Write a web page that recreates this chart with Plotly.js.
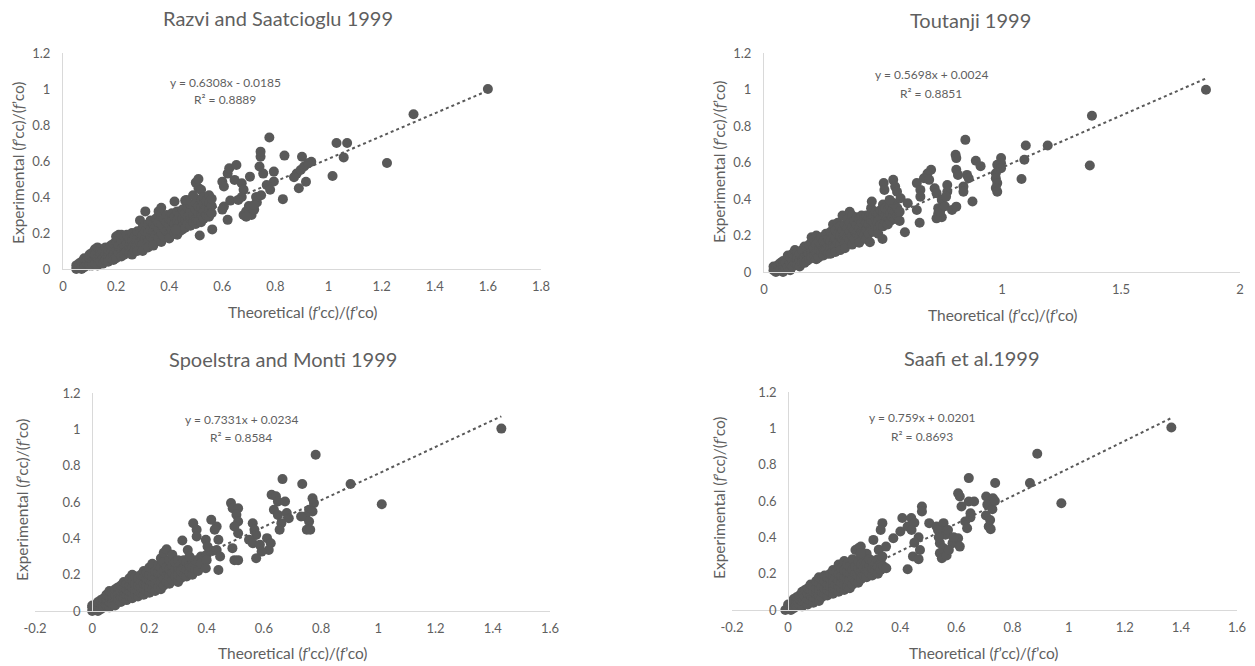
<!DOCTYPE html>
<html>
<head>
<meta charset="utf-8">
<script src="https://cdn.plot.ly/plotly-3.0.1.min.js"></script>
<style>html,body{margin:0;padding:0;background:#fff;}#chart{width:1255px;height:666px;}</style>
</head>
<body>
<div id="chart"></div>
<script>
// ---------- DATA ----------
const titles = ["Razvi and Saatcioglu 1999", "Toutanji 1999", "Spoelstra and Monti 1999", "Saafi et al.1999"];
const equations = ["y = 0.6308x - 0.0185", "y = 0.5698x + 0.0024", "y = 0.7331x + 0.0234", "y = 0.759x + 0.0201"];
const rSquared = ["R² = 0.8889", "R² = 0.8851", "R² = 0.8584", "R² = 0.8693"];
const slopes = [0.6308, 0.5698, 0.7331, 0.759];
const intercepts = [-0.0185, 0.0024, 0.0234, 0.0201];
const xTitle = "Theoretical (<i>f</i>’cc)/(<i>f</i>’co)";
const yTitle = "Experimental (<i>f</i>’cc)/(<i>f</i>’co)";

const yTickVals = [0, 0.2, 0.4, 0.6, 0.8, 1, 1.2];
const yTickText = ["0", "0.2", "0.4", "0.6", "0.8", "1", "1.2"];
const xTickVals1 = [0, 0.2, 0.4, 0.6, 0.8, 1, 1.2, 1.4, 1.6, 1.8];
const xTickText1 = ["0", "0.2", "0.4", "0.6", "0.8", "1", "1.2", "1.4", "1.6", "1.8"];
const xTickVals2 = [0, 0.5, 1, 1.5, 2];
const xTickText2 = ["0", "0.5", "1", "1.5", "2"];
const xTickVals34 = [-0.2, 0, 0.2, 0.4, 0.6, 0.8, 1, 1.2, 1.4, 1.6];
const xTickText34 = ["-0.2", "0", "0.2", "0.4", "0.6", "0.8", "1", "1.2", "1.4", "1.6"];

const razviPts = [
[0.05,0.02],[0.05,0.0],[0.06,0.03],[0.06,0.01],[0.07,0.0],[0.07,0.04],[0.08,0.02],[0.08,0.06],[0.08,0.01],
[0.09,0.03],[0.09,0.05],[0.10,0.02],[0.10,0.06],[0.10,0.08],[0.11,0.04],[0.11,0.09],[0.11,0.02],
[0.12,0.05],[0.12,0.11],[0.12,0.03],[0.12,0.08],[0.13,0.06],[0.13,0.12],[0.13,0.02],[0.14,0.04],[0.14,0.09],[0.14,0.11],
[0.15,0.06],[0.15,0.10],[0.15,0.03],[0.16,0.08],[0.16,0.12],[0.16,0.05],[0.17,0.07],[0.17,0.11],[0.17,0.04],
[0.18,0.09],[0.18,0.13],[0.18,0.06],[0.19,0.08],[0.19,0.14],[0.19,0.05],[0.20,0.10],[0.20,0.15],[0.20,0.06],[0.20,0.18],
[0.21,0.09],[0.21,0.13],[0.21,0.19],[0.22,0.11],[0.22,0.16],[0.22,0.19],[0.22,0.07],[0.23,0.12],[0.23,0.18],[0.23,0.08],
[0.24,0.10],[0.24,0.14],[0.24,0.19],[0.25,0.13],[0.25,0.17],[0.25,0.09],[0.26,0.12],[0.26,0.16],[0.26,0.20],[0.26,0.08],
[0.27,0.14],[0.27,0.18],[0.27,0.10],[0.28,0.13],[0.28,0.17],[0.28,0.21],[0.28,0.10],[0.29,0.15],[0.29,0.20],[0.29,0.27],
[0.30,0.14],[0.30,0.19],[0.30,0.23],[0.30,0.10],[0.31,0.17],[0.31,0.21],[0.31,0.32],[0.32,0.15],[0.32,0.20],[0.32,0.25],[0.32,0.12],
[0.33,0.18],[0.33,0.22],[0.33,0.27],[0.34,0.16],[0.34,0.21],[0.34,0.25],[0.34,0.13],[0.35,0.19],[0.35,0.24],[0.35,0.28],
[0.36,0.17],[0.36,0.22],[0.36,0.26],[0.36,0.32],[0.37,0.20],[0.37,0.25],[0.37,0.34],[0.37,0.15],[0.38,0.18],[0.38,0.23],[0.38,0.28],
[0.39,0.21],[0.39,0.26],[0.39,0.30],[0.40,0.19],[0.40,0.24],[0.40,0.28],[0.40,0.17],[0.41,0.22],[0.41,0.27],[0.41,0.31],
[0.42,0.20],[0.42,0.25],[0.42,0.29],[0.43,0.23],[0.43,0.27],[0.43,0.32],[0.43,0.19],[0.44,0.21],[0.44,0.26],[0.44,0.30],
[0.45,0.24],[0.45,0.28],[0.45,0.33],[0.45,0.22],[0.46,0.23],[0.46,0.27],[0.46,0.31],[0.46,0.38],[0.47,0.25],[0.47,0.29],[0.47,0.34],
[0.48,0.24],[0.48,0.28],[0.48,0.32],[0.48,0.36],[0.49,0.26],[0.49,0.30],[0.49,0.35],[0.50,0.25],[0.50,0.29],[0.50,0.33],[0.50,0.37],[0.50,0.48],
[0.51,0.27],[0.51,0.31],[0.51,0.35],[0.51,0.50],[0.51,0.45],[0.52,0.26],[0.52,0.30],[0.52,0.34],[0.52,0.39],[0.52,0.44],
[0.53,0.28],[0.53,0.32],[0.53,0.36],[0.53,0.40],[0.54,0.30],[0.54,0.34],[0.54,0.38],[0.55,0.29],[0.55,0.33],[0.55,0.37],[0.55,0.41],[0.56,0.31],[0.56,0.35],[0.56,0.39],
[0.515,0.186],[0.562,0.22],[0.425,0.218],[0.42,0.375],[0.465,0.384],[0.49,0.41],
[0.60,0.485],[0.606,0.458],[0.62,0.53],[0.626,0.56],[0.653,0.578],[0.646,0.495],
[0.606,0.347],[0.62,0.273],[0.60,0.33],[0.63,0.38],
[0.673,0.476],[0.68,0.44],[0.673,0.40],[0.66,0.384],[0.704,0.513],
[0.68,0.30],[0.69,0.32],[0.70,0.35],[0.71,0.30],[0.72,0.33],[0.69,0.29],[0.73,0.37],[0.727,0.40],[0.746,0.41],[0.72,0.356],
[0.767,0.467],[0.78,0.44],[0.794,0.486],[0.794,0.541],[0.754,0.53],[0.74,0.569],[0.744,0.624],[0.744,0.652],[0.777,0.731],
[0.828,0.388],[0.834,0.63],
[0.888,0.449],[0.88,0.53],[0.895,0.55],[0.908,0.569],[0.935,0.596],[0.90,0.624],[0.923,0.587],[0.915,0.485],[0.87,0.51],
[1.015,0.517],[1.03,0.70],[1.07,0.70],[1.057,0.62],[1.22,0.589],[1.32,0.86],[1.60,1.0]
];

const toutanjiPts = [
[0.04,0.01],[0.04,0.03],[0.05,0.0],[0.05,0.02],[0.06,0.04],[0.06,0.01],[0.07,0.02],[0.07,0.05],[0.08,0.03],[0.08,0.06],[0.08,0.0],
[0.09,0.02],[0.09,0.05],[0.10,0.03],[0.10,0.07],[0.10,0.09],[0.11,0.04],[0.11,0.08],[0.11,0.01],[0.12,0.06],[0.12,0.10],[0.12,0.03],
[0.13,0.05],[0.13,0.12],[0.13,0.08],[0.14,0.04],[0.14,0.09],[0.14,0.11],[0.15,0.06],[0.15,0.10],[0.15,0.03],[0.16,0.07],[0.16,0.12],[0.16,0.05],
[0.17,0.08],[0.17,0.14],[0.17,0.05],[0.18,0.09],[0.18,0.13],[0.18,0.06],[0.19,0.10],[0.19,0.15],[0.19,0.07],[0.20,0.11],[0.20,0.16],[0.20,0.08],[0.20,0.19],
[0.21,0.09],[0.21,0.13],[0.21,0.18],[0.22,0.10],[0.22,0.15],[0.22,0.20],[0.22,0.07],[0.23,0.12],[0.23,0.17],[0.23,0.08],[0.24,0.11],[0.24,0.15],[0.24,0.19],
[0.25,0.13],[0.25,0.17],[0.25,0.09],[0.26,0.12],[0.26,0.16],[0.26,0.21],[0.27,0.14],[0.27,0.18],[0.27,0.10],[0.28,0.13],[0.28,0.17],[0.28,0.22],[0.28,0.10],
[0.29,0.15],[0.29,0.20],[0.29,0.26],[0.30,0.14],[0.30,0.19],[0.30,0.23],[0.30,0.11],[0.31,0.16],[0.31,0.21],[0.31,0.27],[0.32,0.15],[0.32,0.20],[0.32,0.25],[0.32,0.12],
[0.33,0.18],[0.33,0.23],[0.33,0.31],[0.34,0.16],[0.34,0.21],[0.34,0.26],[0.34,0.13],[0.35,0.19],[0.35,0.24],[0.35,0.29],[0.36,0.17],[0.36,0.22],[0.36,0.27],[0.36,0.33],
[0.37,0.20],[0.37,0.25],[0.37,0.31],[0.37,0.15],[0.38,0.18],[0.38,0.23],[0.38,0.28],[0.39,0.21],[0.39,0.26],[0.39,0.30],[0.40,0.19],[0.40,0.24],[0.40,0.29],[0.40,0.16],
[0.41,0.22],[0.41,0.27],[0.41,0.31],[0.42,0.20],[0.42,0.25],[0.42,0.29],[0.43,0.23],[0.43,0.27],[0.43,0.31],[0.43,0.18],[0.44,0.21],[0.44,0.26],[0.44,0.30],
[0.45,0.24],[0.45,0.28],[0.45,0.32],[0.45,0.35],[0.46,0.22],[0.46,0.27],[0.46,0.31],[0.47,0.25],[0.47,0.29],[0.47,0.33],[0.48,0.24],[0.48,0.28],[0.48,0.32],[0.48,0.21],
[0.49,0.26],[0.49,0.30],[0.49,0.34],[0.50,0.25],[0.50,0.29],[0.50,0.33],[0.50,0.37],[0.51,0.27],[0.51,0.31],[0.51,0.35],[0.52,0.26],[0.52,0.30],[0.52,0.34],
[0.53,0.28],[0.53,0.32],[0.53,0.36],[0.54,0.30],[0.54,0.34],[0.54,0.38],[0.55,0.29],[0.55,0.33],[0.55,0.37],[0.56,0.31],[0.56,0.35],[0.57,0.28],[0.57,0.33],
[0.445,0.163],[0.453,0.386],[0.498,0.181],[0.503,0.487],[0.506,0.45],[0.543,0.505],[0.551,0.468],[0.559,0.44],[0.528,0.395],[0.574,0.404],[0.592,0.218],[0.604,0.377],
[0.642,0.487],[0.657,0.45],[0.657,0.413],[0.642,0.34],[0.654,0.27],
[0.702,0.56],[0.687,0.54],[0.672,0.514],[0.694,0.505],[0.717,0.459],[0.725,0.432],
[0.747,0.395],[0.732,0.35],[0.732,0.32],[0.747,0.30],[0.725,0.294],[0.74,0.33],[0.76,0.36],
[0.77,0.477],[0.77,0.44],[0.765,0.413],[0.79,0.34],[0.808,0.358],
[0.805,0.642],[0.808,0.624],[0.808,0.56],[0.815,0.532],[0.853,0.532],[0.86,0.514],[0.838,0.468],[0.838,0.44],[0.846,0.724],[0.876,0.386],[0.89,0.61],[0.91,0.58],
[0.996,0.624],[0.996,0.596],[0.98,0.587],[0.996,0.569],[0.974,0.541],[0.974,0.514],[0.98,0.487],[0.974,0.46],[0.98,0.44],
[1.082,0.51],[1.094,0.615],[1.10,0.693],[1.192,0.693],[1.369,0.584],[1.378,0.856],[1.857,0.999]
];

const spoelstraPts = [
[0.0,0.0],[0.0,0.02],[0.0,0.03],[0.01,0.01],[0.01,0.03],[0.02,0.0],[0.02,0.02],[0.02,0.05],[0.03,0.01],[0.03,0.04],[0.03,0.06],
[0.04,0.02],[0.04,0.05],[0.04,0.07],[0.05,0.03],[0.05,0.06],[0.05,0.09],[0.06,0.02],[0.06,0.05],[0.06,0.08],[0.06,0.11],
[0.07,0.04],[0.07,0.07],[0.07,0.10],[0.08,0.05],[0.08,0.09],[0.08,0.12],[0.08,0.03],[0.09,0.06],[0.09,0.10],[0.09,0.13],
[0.10,0.05],[0.10,0.08],[0.10,0.11],[0.10,0.14],[0.11,0.07],[0.11,0.10],[0.11,0.13],[0.11,0.16],[0.12,0.06],[0.12,0.09],[0.12,0.12],[0.12,0.15],
[0.13,0.08],[0.13,0.11],[0.13,0.14],[0.13,0.18],[0.14,0.07],[0.14,0.10],[0.14,0.13],[0.14,0.17],[0.14,0.20],[0.15,0.09],[0.15,0.12],[0.15,0.15],[0.15,0.19],
[0.16,0.08],[0.16,0.11],[0.16,0.14],[0.16,0.18],[0.17,0.10],[0.17,0.13],[0.17,0.16],[0.17,0.20],[0.18,0.09],[0.18,0.12],[0.18,0.15],[0.18,0.19],[0.18,0.22],
[0.19,0.11],[0.19,0.14],[0.19,0.18],[0.19,0.21],[0.20,0.10],[0.20,0.13],[0.20,0.17],[0.20,0.20],[0.20,0.24],[0.21,0.12],[0.21,0.16],[0.21,0.19],[0.21,0.26],
[0.22,0.11],[0.22,0.15],[0.22,0.18],[0.22,0.22],[0.23,0.13],[0.23,0.17],[0.23,0.21],[0.23,0.25],[0.24,0.12],[0.24,0.16],[0.24,0.20],[0.24,0.24],[0.24,0.29],
[0.25,0.14],[0.25,0.18],[0.25,0.22],[0.25,0.27],[0.25,0.32],[0.26,0.16],[0.26,0.20],[0.26,0.24],[0.26,0.34],[0.27,0.15],[0.27,0.19],[0.27,0.23],[0.27,0.28],
[0.28,0.17],[0.28,0.21],[0.28,0.25],[0.28,0.31],[0.29,0.19],[0.29,0.23],[0.29,0.27],[0.30,0.16],[0.30,0.20],[0.30,0.24],[0.30,0.28],
[0.31,0.18],[0.31,0.22],[0.31,0.26],[0.32,0.20],[0.32,0.24],[0.32,0.28],[0.33,0.19],[0.33,0.23],[0.33,0.27],[0.34,0.21],[0.34,0.25],[0.35,0.20],[0.35,0.24],[0.36,0.23],[0.37,0.22],
[0.36,0.28],[0.38,0.30],[0.40,0.31],[0.42,0.33],[0.38,0.26],[0.40,0.28],
[0.315,0.388],[0.334,0.336],[0.34,0.30],[0.353,0.483],[0.365,0.447],[0.365,0.41],[0.397,0.392],[0.403,0.355],[0.397,0.235],
[0.416,0.502],[0.435,0.465],[0.428,0.447],[0.441,0.392],[0.435,0.336],[0.447,0.30],[0.441,0.226],
[0.485,0.594],[0.491,0.566],[0.51,0.566],[0.504,0.53],[0.51,0.493],[0.497,0.465],[0.51,0.428],[0.49,0.346],[0.497,0.28],[0.51,0.28],
[0.561,0.483],[0.567,0.447],[0.573,0.419],[0.548,0.392],[0.561,0.373],[0.586,0.364],[0.611,0.401],[0.624,0.373],[0.617,0.336],[0.592,0.327],[0.573,0.29],
[0.627,0.64],[0.642,0.632],[0.649,0.603],[0.674,0.603],[0.635,0.557],[0.649,0.529],[0.68,0.539],[0.687,0.511],[0.661,0.483],[0.655,0.447],
[0.77,0.62],[0.775,0.594],[0.758,0.557],[0.77,0.548],[0.745,0.52],[0.758,0.493],[0.75,0.447],[0.762,0.447],[0.73,0.52],
[0.665,0.726],[0.734,0.699],[0.781,0.86],[0.903,0.699],[1.012,0.588],[1.43,1.004]
];

const saafiPts = [
[-0.01,0.0],[0.0,0.01],[0.0,0.03],[0.01,0.0],[0.01,0.02],[0.02,0.01],[0.02,0.04],[0.02,0.06],[0.03,0.02],[0.03,0.05],[0.03,0.07],
[0.04,0.03],[0.04,0.06],[0.04,0.08],[0.05,0.02],[0.05,0.05],[0.05,0.10],[0.06,0.04],[0.06,0.07],[0.06,0.11],[0.07,0.03],[0.07,0.06],[0.07,0.09],[0.07,0.12],
[0.08,0.05],[0.08,0.08],[0.08,0.11],[0.08,0.14],[0.09,0.04],[0.09,0.07],[0.09,0.10],[0.09,0.13],[0.10,0.06],[0.10,0.09],[0.10,0.12],[0.10,0.16],
[0.11,0.05],[0.11,0.08],[0.11,0.11],[0.11,0.15],[0.11,0.18],[0.12,0.07],[0.12,0.10],[0.12,0.13],[0.12,0.17],[0.13,0.09],[0.13,0.12],[0.13,0.16],[0.13,0.19],
[0.14,0.08],[0.14,0.11],[0.14,0.14],[0.14,0.18],[0.15,0.10],[0.15,0.13],[0.15,0.17],[0.15,0.20],[0.16,0.09],[0.16,0.12],[0.16,0.15],[0.16,0.19],[0.16,0.22],
[0.17,0.11],[0.17,0.14],[0.17,0.18],[0.17,0.21],[0.18,0.10],[0.18,0.13],[0.18,0.16],[0.18,0.20],[0.18,0.25],[0.19,0.12],[0.19,0.15],[0.19,0.19],[0.19,0.23],
[0.20,0.11],[0.20,0.14],[0.20,0.18],[0.20,0.22],[0.20,0.27],[0.21,0.13],[0.21,0.17],[0.21,0.21],[0.21,0.25],[0.22,0.12],[0.22,0.16],[0.22,0.20],[0.22,0.24],
[0.23,0.14],[0.23,0.18],[0.23,0.22],[0.23,0.28],[0.24,0.16],[0.24,0.20],[0.24,0.24],[0.24,0.33],[0.25,0.15],[0.25,0.19],[0.25,0.23],[0.25,0.27],[0.25,0.34],
[0.26,0.17],[0.26,0.21],[0.26,0.25],[0.26,0.30],[0.27,0.19],[0.27,0.23],[0.27,0.27],[0.28,0.18],[0.28,0.22],[0.28,0.26],[0.28,0.31],
[0.29,0.20],[0.29,0.24],[0.29,0.28],[0.30,0.19],[0.30,0.23],[0.30,0.27],[0.31,0.21],[0.31,0.25],[0.32,0.20],[0.32,0.24],[0.32,0.28],[0.33,0.22],[0.33,0.26],[0.34,0.24],[0.35,0.23],
[0.259,0.349],[0.259,0.313],[0.304,0.386],[0.323,0.331],[0.336,0.294],[0.336,0.478],[0.33,0.441],[0.349,0.349],[0.375,0.395],[0.40,0.432],[0.407,0.506],[0.439,0.506],[0.426,0.46],[0.426,0.224],
[0.45,0.48],[0.44,0.44],[0.465,0.40],[0.45,0.37],[0.47,0.33],[0.445,0.295],[0.465,0.28],
[0.477,0.57],[0.477,0.542],[0.503,0.478],[0.529,0.46],
[0.554,0.478],[0.541,0.441],[0.561,0.414],[0.541,0.368],[0.554,0.34],[0.586,0.368],[0.606,0.395],[0.612,0.349],[0.541,0.313],[0.548,0.285],[0.565,0.30],
[0.534,0.44],[0.537,0.40],[0.57,0.44],[0.59,0.40],[0.573,0.33],
[0.606,0.643],[0.612,0.625],[0.644,0.597],[0.663,0.597],[0.618,0.57],[0.65,0.533],[0.631,0.487],[0.638,0.45],[0.65,0.51],
[0.706,0.625],[0.73,0.615],[0.71,0.58],[0.728,0.555],[0.705,0.52],[0.72,0.495],[0.715,0.46],[0.722,0.445],[0.737,0.60],
[0.644,0.726],[0.738,0.699],[0.862,0.699],[0.888,0.86],[0.974,0.588],[1.366,1.005]
];

// ---------- LAYOUT HELPERS ----------
const W = 1255, H = 666;
const px = v => v / W;
const py = v => 1 - v / H;
const grey = "#595959";
const textGrey = "#5f5f5f";
const FONT = "Lato, 'Open Sans', sans-serif";

const panels = [
  {pts: razviPts, xr: [0, 1.8], xb: [63, 541], yb: [269, 53], tv: xTickVals1, tt: xTickText1},
  {pts: toutanjiPts, xr: [0, 2], xb: [764, 1240], yb: [272, 53], tv: xTickVals2, tt: xTickText2},
  {pts: spoelstraPts, xr: [-0.2, 1.6], xb: [35, 550], yb: [611, 393], tv: xTickVals34, tt: xTickText34},
  {pts: saafiPts, xr: [-0.2, 1.6], xb: [732, 1237], yb: [610, 392], tv: xTickVals34, tt: xTickText34}
];
const titlePos = [[278, 18], [970, 20], [283, 359], [972, 358]];
const xTitlePos = [[303, 312], [1003, 315], [293, 653], [984, 653]];
const yTitlePos = [[18, 163], [719, 162], [22, 500], [719, 498]];
const eqPos = [[225, 82], [931, 75], [241, 419], [922, 418]];

const traces = [];
const layout = {
  width: W, height: H,
  margin: {l: 0, r: 0, t: 0, b: 0},
  paper_bgcolor: "#fff", plot_bgcolor: "rgba(0,0,0,0)",
  showlegend: false,
  font: {family: FONT, color: textGrey},
  annotations: []
};

panels.forEach((p, i) => {
  const n = i + 1;
  const xa = "x" + (n === 1 ? "" : n), ya = "y" + (n === 1 ? "" : n);
  const xs = p.pts.map(d => d[0]), ys = p.pts.map(d => d[1]);
  traces.push({
    type: "scatter", mode: "markers", x: xs, y: ys, xaxis: xa, yaxis: ya,
    marker: {color: grey, size: 10}, cliponaxis: false, hoverinfo: "skip"
  });
  const xmin = Math.min(...xs), xmax = Math.max(...xs);
  traces.push({
    type: "scatter", mode: "lines", xaxis: xa, yaxis: ya,
    x: [xmin, xmax], y: [slopes[i] * xmin + intercepts[i], slopes[i] * xmax + intercepts[i]],
    line: {color: grey, width: 2, dash: "dot"}, cliponaxis: false, hoverinfo: "skip"
  });
  const xd = [px(p.xb[0]), px(p.xb[1])];
  const yd = [py(p.yb[0]), py(p.yb[1])];
  layout["xaxis" + (n === 1 ? "" : n)] = {
    domain: xd, range: p.xr, anchor: ya,
    tickvals: p.tv, ticktext: p.tt, ticks: "", showgrid: false, zeroline: false,
    showline: true, linecolor: "#d9d9d9", linewidth: 1,
    tickfont: {family: FONT, size: 13, color: textGrey}, ticklabelstandoff: 5
  };
  const yaxis = {
    domain: yd, range: [0, 1.2],
    tickvals: yTickVals, ticktext: yTickText, ticks: "", showgrid: false, zeroline: false,
    showline: true, linecolor: "#d9d9d9", linewidth: 1,
    tickfont: {family: FONT, size: 13, color: textGrey}, ticklabelstandoff: 9
  };
  if (p.xr[0] < 0) {
    yaxis.anchor = "free";
    yaxis.position = xd[0] + (0 - p.xr[0]) / (p.xr[1] - p.xr[0]) * (xd[1] - xd[0]);
  } else {
    yaxis.anchor = xa;
  }
  layout["yaxis" + (n === 1 ? "" : n)] = yaxis;

  layout.annotations.push({
    xref: "paper", yref: "paper", x: px(titlePos[i][0]), y: py(titlePos[i][1]),
    xanchor: "center", yanchor: "middle", showarrow: false, text: titles[i],
    font: {family: FONT, size: 20, color: textGrey}
  });
  layout.annotations.push({
    xref: "paper", yref: "paper", x: px(xTitlePos[i][0]), y: py(xTitlePos[i][1]),
    xanchor: "center", yanchor: "middle", showarrow: false, text: xTitle,
    font: {family: FONT, size: 15.5, color: textGrey}
  });
  layout.annotations.push({
    xref: "paper", yref: "paper", x: px(yTitlePos[i][0]), y: py(yTitlePos[i][1]),
    xanchor: "center", yanchor: "middle", showarrow: false, text: yTitle, textangle: -90,
    font: {family: FONT, size: 15.5, color: textGrey}
  });
  layout.annotations.push({
    xref: "paper", yref: "paper", x: px(eqPos[i][0]), y: py(eqPos[i][1]),
    xanchor: "center", yanchor: "middle", showarrow: false, text: equations[i],
    font: {family: FONT, size: 12, color: textGrey}
  });
  layout.annotations.push({
    xref: "paper", yref: "paper", x: px(eqPos[i][0]), y: py(eqPos[i][1] + 18),
    xanchor: "center", yanchor: "middle", showarrow: false, text: rSquared[i],
    font: {family: FONT, size: 12, color: textGrey}
  });
});

Plotly.newPlot("chart", traces, layout, {staticPlot: true, displayModeBar: false});
</script>
</body>
</html>
